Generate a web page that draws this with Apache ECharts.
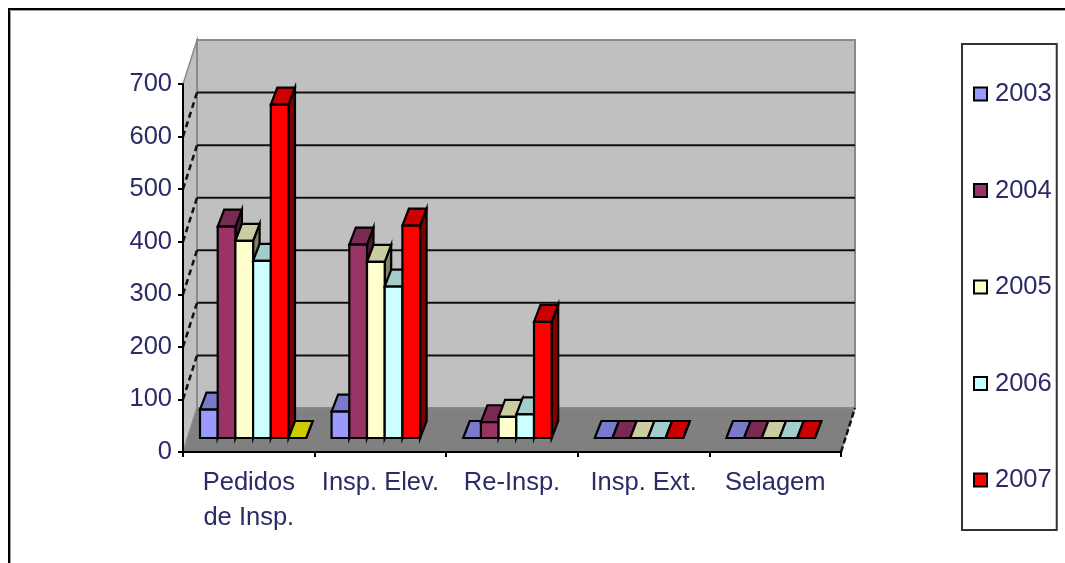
<!DOCTYPE html>
<html><head><meta charset="utf-8">
<style>html,body{margin:0;padding:0;background:#fff;overflow:hidden}#c{width:1065px;height:563px;filter:blur(0.4px)}</style>
<script src="https://cdn.jsdelivr.net/npm/echarts@6/dist/echarts.min.js"></script>
</head><body><div id="c"></div>
<script>
const categories = ['Pedidos\nde Insp.', 'Insp. Elev.', 'Re-Insp.', 'Insp. Ext.', 'Selagem'];
const years = ['2003', '2004', '2005', '2006', '2007'];
const v2003 = [54, 50, 0, 0, 0];
const v2004 = [402, 368, 30, 0, 0];
const v2005 = [375, 335, 40, 0, 0];
const v2006 = [337, 288, 45, 0, 0];
const v2007 = [634, 404, 221, 0, 0];
const vExtra = [0, '-', '-', '-', '-'];
const yTicks = [0, 100, 200, 300, 400, 500, 600, 700];

const TEXT = '#2b2b66', FONT = '"Liberation Sans", Arial, sans-serif', FS = 25.5;
const DX = 14, DY = 44;              // wall depth
const BX = 4.3, BY = 14;             // bar front plane
const CX = 6.5, CY = 17;             // bar depth
const W = 17.7;                      // bar width

function shade(hex, f) {
  const n = parseInt(hex.slice(1), 16);
  return 'rgb(' + [n >> 16, (n >> 8) & 255, n & 255].map(c => Math.round(c * f)).join(',') + ')';
}
function poly(points, fill, stroke, lw, dash) {
  return { type: 'polygon', shape: { points }, style: { fill: fill, stroke: stroke, lineWidth: lw, lineDash: dash, lineJoin: 'miter' } };
}
function line(a, b, stroke, lw, dash) {
  return { type: 'line', shape: { x1: a[0], y1: a[1], x2: b[0], y2: b[1] }, style: { stroke, lineWidth: lw, lineDash: dash, fill: null } };
}
function wallItem(params, api) {
  const cs = params.coordSys, L = cs.x, R = cs.x + cs.width, B = cs.y + cs.height;
  const v = api.value(1), y = api.coord([0, v])[1], kids = [];
  if (params.dataIndex === 0) {
    const T = cs.y;
    kids.push(poly([[L, B], [L, T], [L + DX, T - DY], [L + DX, B - DY]], '#c0c0c0', '#8a8a8a', 1.5));
    kids.push(poly([[L + DX, T - DY], [R + DX, T - DY], [R + DX, B - DY], [L + DX, B - DY]], '#c0c0c0', '#8a8a8a', 2));
    kids.push(poly([[L, B], [R, B], [R + DX, B - DY], [L + DX, B - DY]], '#808080', '#8a8a8a', 1));
    kids.push(line([R, B], [R + DX, B - DY], '#111', 2.5, [6, 3]));
  } else if (v < yTicks[yTicks.length - 1]) {
    kids.push(line([L + DX, y - DY], [R + DX, y - DY], '#111', 2));
    kids.push(line([L, y], [L + DX, y - DY], '#111', 2.5, [6, 4]));
  }
  return { type: 'group', children: kids };
}
function barItem(idx, color) {
  return function (params, api) {
    const val = api.value(1);
    if (isNaN(val)) return null;
    const cat = api.value(0);
    const base = api.coord([cat, 0]), top = api.coord([cat, val]);
    const x0 = base[0] + BX + (idx - 3) * W, x1 = x0 + W;
    const yb = base[1] - BY, yt = top[1] - BY;
    const s = '#000', lw = 2.2;
    return { type: 'group', children: [
      poly([[x1, yb], [x1 + CX, yb - CY], [x1 + CX, yt - CY], [x1, yt]], shade(color, 0.5), s, lw),
      poly([[x0, yt], [x0 + CX, yt - CY], [x1 + CX, yt - CY], [x1, yt]], shade(color, 0.8), s, lw),
      poly([[x0, yb], [x1, yb], [x1, yt], [x0, yt]], color, s, lw)
    ] };
  };
}
const seriesDefs = [
  ['2003', v2003, '#9999ff'], ['2004', v2004, '#993366'], ['2005', v2005, '#ffffcc'],
  ['2006', v2006, '#ccffff'], ['2007', v2007, '#ff0000'], ['extra', vExtra, '#ffff00']
];
const chart = echarts.init(document.getElementById('c'), null, { renderer: 'canvas' });
chart.setOption({
  animation: false,
  backgroundColor: '#fff',
  textStyle: { fontFamily: FONT },
  graphic: [
    { type: 'rect', shape: { x: 10.5, y: 10.5, width: 1200, height: 700 }, style: { fill: null, stroke: '#a0a0a0', lineWidth: 1 }, z: 0 },
    { type: 'rect', shape: { x: 9, y: 9, width: 1200, height: 700 }, style: { fill: null, stroke: '#000', lineWidth: 2 }, z: 0 }
  ],
  grid: { left: 183, top: 84, width: 658, height: 368, containLabel: false },
  xAxis: {
    type: 'category', data: categories, boundaryGap: true, z: 5,
    axisLine: { show: true, lineStyle: { color: '#000', width: 2 } },
    axisTick: { show: true, length: 5, alignWithLabel: false, lineStyle: { color: '#000', width: 2 } },
    axisLabel: { color: TEXT, fontSize: FS, fontFamily: FONT, lineHeight: 35, margin: 13, interval: 0 },
    splitLine: { show: false }
  },
  yAxis: {
    type: 'value', min: 0, max: 700, interval: 100, z: 5,
    axisLine: { show: true, lineStyle: { color: '#000', width: 2 } },
    axisTick: { show: true, length: 5, lineStyle: { color: '#000', width: 2 } },
    axisLabel: { color: TEXT, fontSize: FS, fontFamily: FONT, margin: 11, padding: [0, 0, 4, 0] },
    splitLine: { show: false }
  },
  legend: {
    orient: 'vertical', left: 962, top: 44, data: years, icon: 'rect',
    itemWidth: 13, itemHeight: 13, itemGap: 70.5,
    padding: [37, 5, 37, 11],
    borderColor: '#333', borderWidth: 2, backgroundColor: '#fff',
    selectedMode: false,
    itemStyle: { borderColor: '#000', borderWidth: 2 },
    textStyle: { color: TEXT, fontSize: FS, fontFamily: FONT, lineHeight: 24, padding: [0, 0, 0, 3] }
  },
  series: [
    { type: 'custom', name: 'walls', coordinateSystem: 'cartesian2d', silent: true, clip: false,
      encode: { x: 0, y: 1 }, data: yTicks.map(t => [0, t]), renderItem: wallItem, z: 1 }
  ].concat(seriesDefs.map((d, i) => ({
    type: 'custom', name: d[0], coordinateSystem: 'cartesian2d', clip: false, z: 2,
    encode: { x: 0, y: 1 }, itemStyle: { color: d[2] },
    data: d[1].map((v, k) => [k, v]), renderItem: barItem(i, d[2])
  })))
});
</script></body></html>
